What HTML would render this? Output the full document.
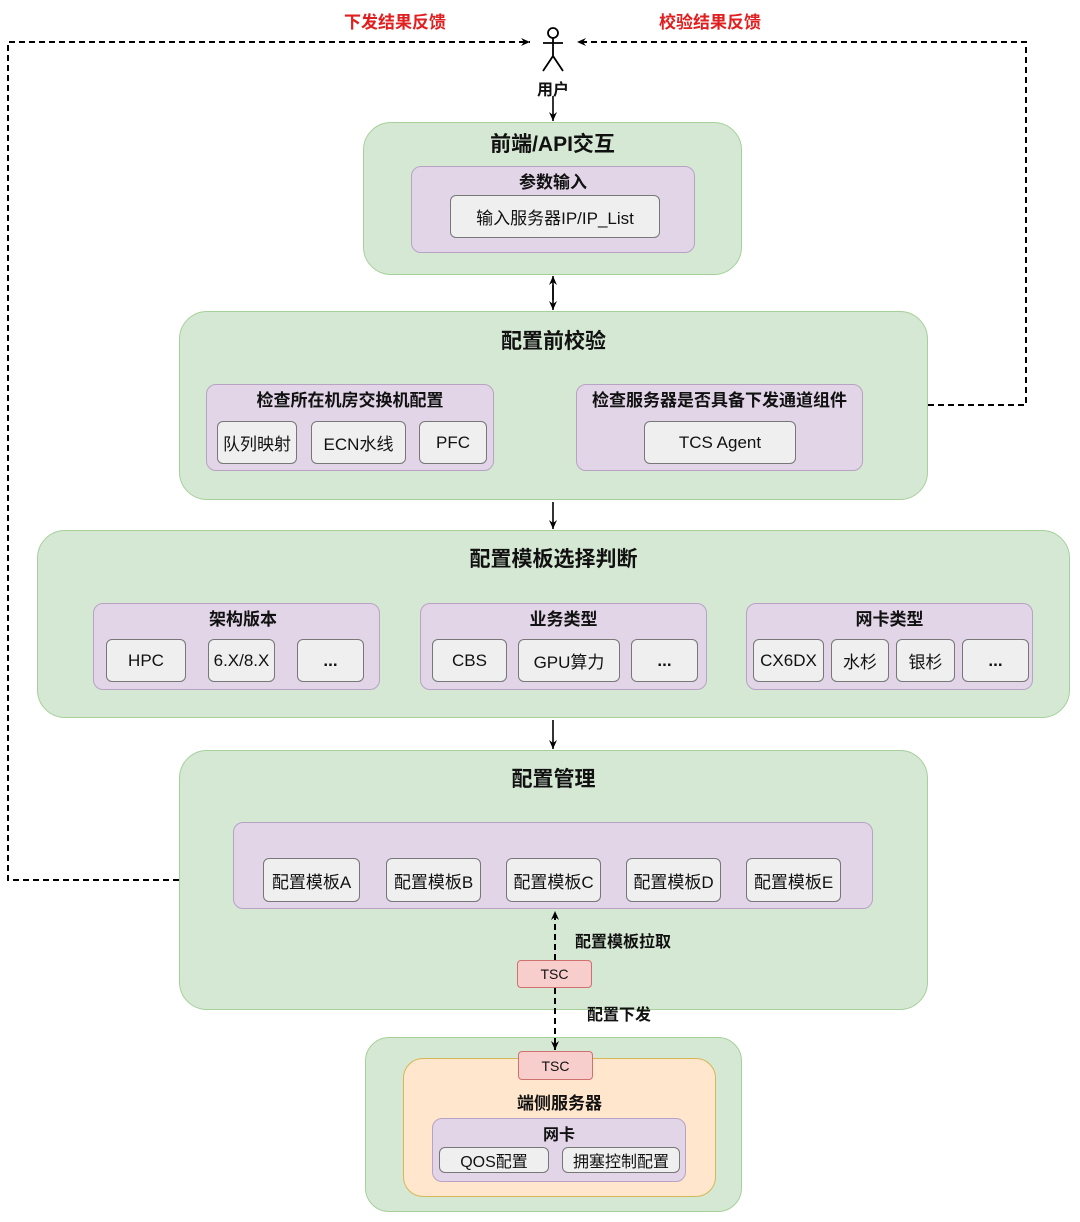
<!DOCTYPE html>
<html><head><meta charset="utf-8"><style>
body{margin:0;width:1080px;height:1222px;background:#fff;position:relative;overflow:hidden;font-family:"Liberation Sans","Noto Sans CJK SC",sans-serif;color:#111}
div{position:absolute;box-sizing:border-box}
.g{background:#d5e8d4;border:1px solid #a6d09a;border-radius:28px}
.p{background:#e1d5e7;border:1px solid #b8a3c4;border-radius:10px}
.i{background:#efefef;border:1px solid #777;border-radius:6px;display:flex;align-items:center;justify-content:center;font-size:17px}
.r{background:#f8cecc;border:1px solid #d07070;border-radius:4px;display:flex;align-items:center;justify-content:center;font-size:14px}
.t{font-weight:bold;text-align:center;white-space:nowrap}
.h1{font-size:21px}.h2{font-size:17px}
</style></head><body>
<svg width="1080" height="1222" style="position:absolute;left:0;top:0">
<defs><marker id="a" markerUnits="userSpaceOnUse" markerWidth="10" markerHeight="10" refX="9" refY="5" orient="auto"><path d="M0,1 L9,5 L0,9 L3,5z" fill="#000"/></marker></defs>
<g stroke="#000" stroke-width="2" fill="none">
<path d="M179,880 H8 V42 H530" stroke-dasharray="6,4" marker-end="url(#a)"/>
<path d="M928,405 H1026 V42 H577" stroke-dasharray="6,4" marker-end="url(#a)"/>
<circle cx="553" cy="33" r="5" stroke-width="1.8"/>
<path d="M553,38 V56 M543,43 H563 M553,56 L543,71 M553,56 L563,71" stroke-width="1.8"/>
<path d="M553,96 V121" marker-end="url(#a)" stroke-width="1.6"/>
<path d="M553,285 V310" marker-end="url(#a)" stroke-width="1.6"/><path d="M553,300 V276" marker-end="url(#a)" stroke-width="1.6"/>
<path d="M553,502 V529" marker-end="url(#a)" stroke-width="1.6"/>
<path d="M553,720 V749" marker-end="url(#a)" stroke-width="1.6"/>
</g></svg>
<div class="t" style="left:330px;top:8px;width:130px;color:#e02020;font-size:17px">下发结果反馈</div>
<div class="t" style="left:645px;top:8px;width:130px;color:#e02020;font-size:17px">校验结果反馈</div>
<div class="t" style="left:523px;top:76px;width:60px;font-size:16px">用户</div>

<div class="g" style="left:363px;top:122px;width:379px;height:153px"></div>
<div class="t h1" style="left:363px;top:128px;width:379px">前端/API交互</div>
<div class="p" style="left:411px;top:166px;width:284px;height:87px"></div>
<div class="t h2" style="left:411px;top:168px;width:284px">参数输入</div>
<div class="i" style="left:450px;top:195px;width:210px;height:43px">输入服务器IP/IP_List</div>

<div class="g" style="left:179px;top:311px;width:749px;height:189px"></div>
<div class="t h1" style="left:179px;top:325px;width:749px">配置前校验</div>
<div class="p" style="left:206px;top:384px;width:288px;height:87px"></div>
<div class="t h2" style="left:206px;top:386px;width:288px">检查所在机房交换机配置</div>
<div class="i" style="left:217px;top:421px;width:80px;height:43px">队列映射</div>
<div class="i" style="left:311px;top:421px;width:95px;height:43px">ECN水线</div>
<div class="i" style="left:419px;top:421px;width:68px;height:43px">PFC</div>
<div class="p" style="left:576px;top:384px;width:287px;height:87px"></div>
<div class="t h2" style="left:576px;top:386px;width:287px">检查服务器是否具备下发通道组件</div>
<div class="i" style="left:644px;top:421px;width:152px;height:43px">TCS Agent</div>

<div class="g" style="left:37px;top:530px;width:1033px;height:188px"></div>
<div class="t h1" style="left:37px;top:543px;width:1033px">配置模板选择判断</div>
<div class="p" style="left:93px;top:603px;width:287px;height:87px"></div>
<div class="t h2" style="left:93px;top:605px;width:300px">架构版本</div>
<div class="i" style="left:106px;top:639px;width:80px;height:43px">HPC</div>
<div class="i" style="left:208px;top:639px;width:67px;height:43px">6.X/8.X</div>
<div class="i" style="left:297px;top:639px;width:67px;height:43px;font-weight:bold">...</div>
<div class="p" style="left:420px;top:603px;width:287px;height:87px"></div>
<div class="t h2" style="left:420px;top:605px;width:287px">业务类型</div>
<div class="i" style="left:432px;top:639px;width:75px;height:43px">CBS</div>
<div class="i" style="left:518px;top:639px;width:102px;height:43px">GPU算力</div>
<div class="i" style="left:631px;top:639px;width:67px;height:43px;font-weight:bold">...</div>
<div class="p" style="left:746px;top:603px;width:287px;height:87px"></div>
<div class="t h2" style="left:746px;top:605px;width:287px">网卡类型</div>
<div class="i" style="left:753px;top:639px;width:71px;height:43px">CX6DX</div>
<div class="i" style="left:831px;top:639px;width:58px;height:43px">水杉</div>
<div class="i" style="left:896px;top:639px;width:59px;height:43px">银杉</div>
<div class="i" style="left:962px;top:639px;width:67px;height:43px;font-weight:bold">...</div>

<div class="g" style="left:179px;top:750px;width:749px;height:260px"></div>
<div class="t h1" style="left:179px;top:763px;width:749px">配置管理</div>
<div class="p" style="left:233px;top:822px;width:640px;height:87px"></div>
<div class="i" style="left:263px;top:858px;width:97px;height:44px">配置模板A</div>
<div class="i" style="left:386px;top:858px;width:95px;height:44px">配置模板B</div>
<div class="i" style="left:506px;top:858px;width:95px;height:44px">配置模板C</div>
<div class="i" style="left:626px;top:858px;width:95px;height:44px">配置模板D</div>
<div class="i" style="left:746px;top:858px;width:95px;height:44px">配置模板E</div>

<div class="g" style="left:365px;top:1037px;width:377px;height:175px;border-radius:24px"></div>
<div style="left:403px;top:1058px;width:313px;height:139px;background:#ffe6cc;border:1px solid #d6b656;border-radius:20px"></div>
<div class="t h2" style="left:403px;top:1089px;width:313px">端侧服务器</div>
<div class="p" style="left:432px;top:1118px;width:254px;height:64px"></div>
<div class="t" style="left:432px;top:1121px;width:254px;font-size:16px">网卡</div>
<div class="i" style="left:439px;top:1147px;width:110px;height:26px;font-size:16px">QOS配置</div>
<div class="i" style="left:562px;top:1147px;width:118px;height:26px;font-size:16px">拥塞控制配置</div>

<svg width="1080" height="1222" style="position:absolute;left:0;top:0">
<defs><marker id="b" markerUnits="userSpaceOnUse" markerWidth="10" markerHeight="10" refX="9" refY="5" orient="auto"><path d="M0,1 L9,5 L0,9 L3,5z" fill="#000"/></marker></defs>
<g stroke="#000" stroke-width="2" fill="none" stroke-dasharray="6,4">
<path d="M555,960 V911" marker-end="url(#b)"/>
<path d="M555,988 V1050" marker-end="url(#b)"/>
</g></svg>
<div class="r" style="left:517px;top:960px;width:75px;height:28px">TSC</div>
<div class="r" style="left:518px;top:1051px;width:75px;height:29px">TSC</div>
<div class="t" style="left:575px;top:928px;font-size:16px">配置模板拉取</div>
<div class="t" style="left:587px;top:1001px;font-size:16px">配置下发</div>
</body></html>
